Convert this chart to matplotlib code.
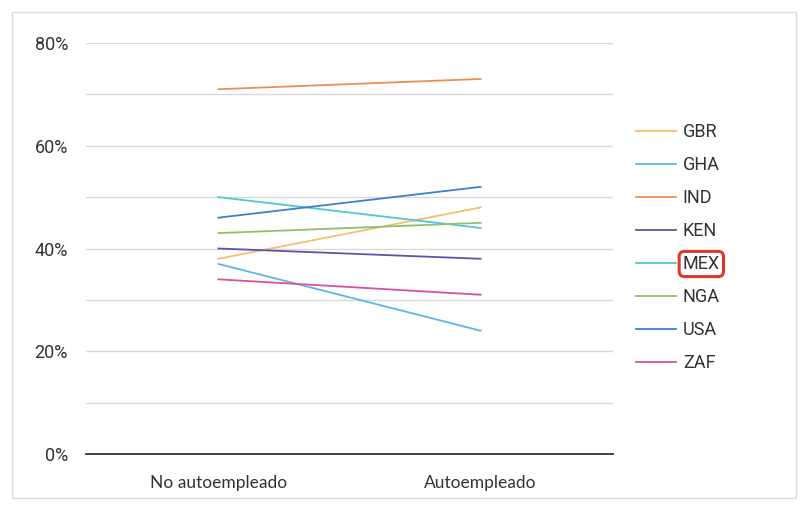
import matplotlib
matplotlib.use('Agg')
import matplotlib.pyplot as plt
from matplotlib.patches import Rectangle
from matplotlib.ticker import MultipleLocator, FuncFormatter

categories = ['No autoempleado', 'Autoempleado']
countries = ['GBR', 'GHA', 'IND', 'KEN', 'MEX', 'NGA', 'USA', 'ZAF']
values = {
    'GBR': [38, 48],
    'GHA': [37, 24],
    'IND': [71, 73],
    'KEN': [40, 38],
    'MEX': [50, 44],
    'NGA': [43, 45],
    'USA': [46, 52],
    'ZAF': [34, 31],
}
colors = {
    'GBR': '#f3c06e',
    'GHA': '#5cb9e2',
    'IND': '#e99050',
    'KEN': '#5d52a8',
    'MEX': '#52c6d2',
    'NGA': '#8fc070',
    'USA': '#3b7fd6',
    'ZAF': '#d9519f',
}
highlight = 'MEX'

fig = plt.figure(figsize=(8.07, 5.12), dpi=100)
fig.patches.append(Rectangle((12 / 807, 14 / 512), 784 / 807, 486 / 512,
                             transform=fig.transFigure, fill=False,
                             edgecolor='#dcdcdc', linewidth=1))

ax = fig.add_axes([86 / 807, 1 - 454 / 512, 527 / 807, 411 / 512])

x = range(len(categories))
for c in countries:
    ax.plot(x, values[c], color=colors[c], linewidth=1.3, label=c)

ax.set_xlim(-0.505, 1.505)
ax.set_ylim(0, 80)
ax.yaxis.set_major_locator(MultipleLocator(20))
ax.yaxis.set_minor_locator(MultipleLocator(10))
ax.yaxis.set_major_formatter(FuncFormatter(lambda v, p: f'{v:.0f}%'))
ax.grid(axis='y', which='both', color='#d9d9d9', linewidth=1)
ax.set_axisbelow(True)

ax.set_xticks(list(x))
ax.set_xticklabels(categories, fontfamily='Lato', fontsize=12.5, color='#333333')
for lab in ax.get_yticklabels():
    lab.set_fontfamily('Roboto')
    lab.set_fontsize(13)
    lab.set_color('#333333')
ax.tick_params(axis='both', which='both', length=0)
ax.tick_params(axis='x', pad=15)
ax.tick_params(axis='y', pad=13)

for s in ['top', 'right', 'left']:
    ax.spines[s].set_visible(False)
ax.spines['bottom'].set_color('#333333')
ax.spines['bottom'].set_linewidth(1.3)
ax.spines['bottom'].set_zorder(5)

leg = fig.legend(loc='center left', bbox_to_anchor=(636 / 807, 1 - 247.5 / 512),
                 frameon=False, borderpad=0, borderaxespad=0,
                 handlelength=2.2, handletextpad=0.39, labelspacing=0.83,
                 prop={'family': 'Roboto', 'size': 13})
for t in leg.get_texts():
    t.set_color('#333333')
    if t.get_text() == highlight:
        t.set_bbox(dict(boxstyle='round,pad=0.2,rounding_size=0.3',
                        facecolor='none', edgecolor='#d63a2c', linewidth=2.2))

fig.savefig('out.png', dpi=100)
